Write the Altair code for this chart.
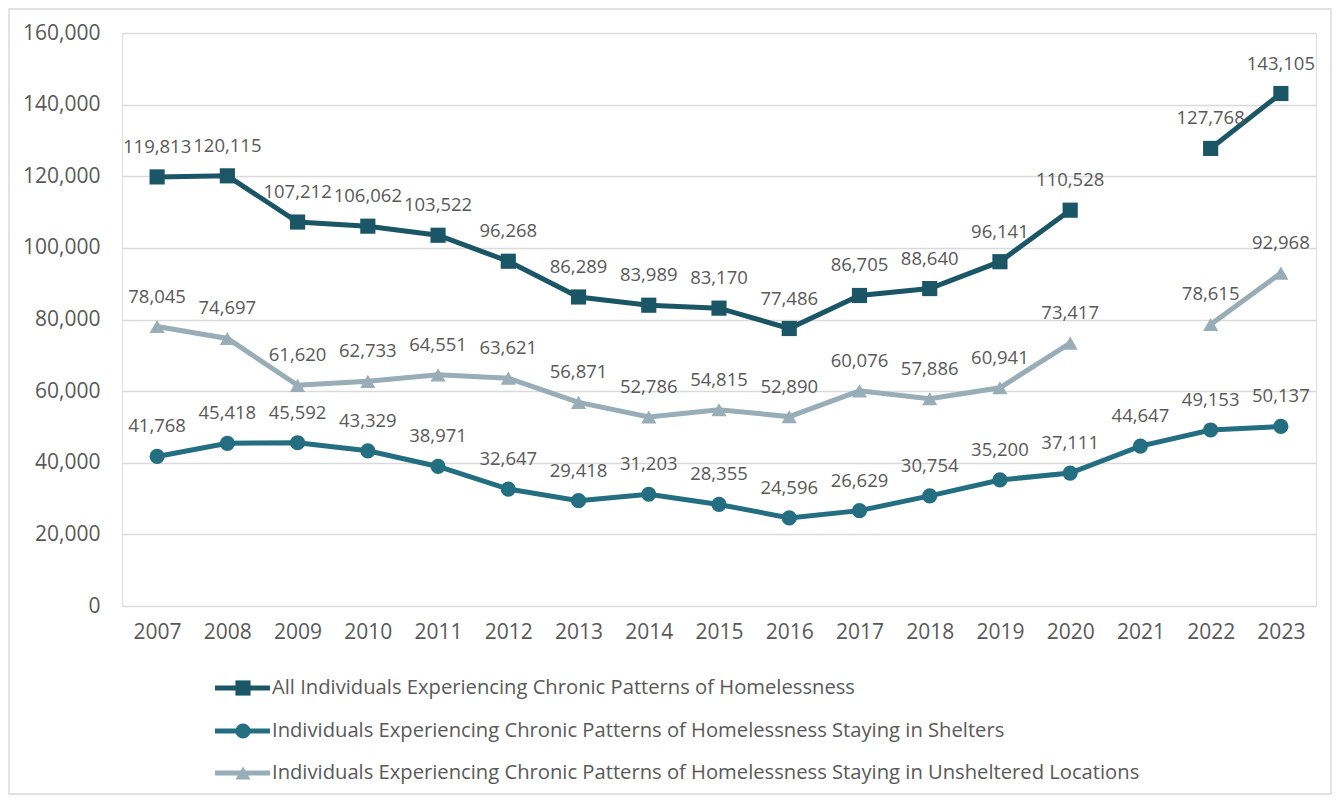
import altair as alt
import pandas as pd

years = [str(y) for y in range(2007, 2024)]
all_vals = [119813, 120115, 107212, 106062, 103522, 96268, 86289, 83989, 83170,
            77486, 86705, 88640, 96141, 110528, None, 127768, 143105]
shelter_vals = [41768, 45418, 45592, 43329, 38971, 32647, 29418, 31203, 28355,
                24596, 26629, 30754, 35200, 37111, 44647, 49153, 50137]
unshel_vals = [78045, 74697, 61620, 62733, 64551, 63621, 56871, 52786, 54815,
               52890, 60076, 57886, 60941, 73417, None, 78615, 92968]

series_names = [
    "All Individuals Experiencing Chronic Patterns of Homelessness",
    "Individuals Experiencing Chronic Patterns of Homelessness Staying in Shelters",
    "Individuals Experiencing Chronic Patterns of Homelessness Staying in Unsheltered Locations",
]
series_colors = ["#1b5667", "#236e80", "#98adb7"]
series_shapes = ["square", "circle", "triangle-up"]
y_ticks = list(range(0, 160001, 20000))

rows = []
for name, vals in zip(series_names, [all_vals, shelter_vals, unshel_vals]):
    seg = 0
    for yr, v in zip(years, vals):
        if v is None:
            seg += 1
            continue
        rows.append({"year": yr, "value": v, "series": name, "seg": f"{name}-{seg}"})
df = pd.DataFrame(rows)

FONT = "Open Sans"
TXT = "#595959"
W, H = 1194, 573

xenc = alt.X("year:O", sort=years,
             scale=alt.Scale(type="point", padding=0.5, domain=years),
             axis=alt.Axis(title=None, labelAngle=0, labelFontSize=21, labelColor=TXT,
                           labelFont=FONT, ticks=False, domain=False, grid=False,
                           labelPadding=15))
yenc = alt.Y("value:Q", scale=alt.Scale(domain=[0, 160000], nice=False),
             axis=alt.Axis(title=None, values=y_ticks, format=",.0f", labelFontSize=21,
                           labelColor=TXT, labelFont=FONT, ticks=False, domain=False,
                           gridColor="#d9d9d9", gridWidth=1.5, labelPadding=22))
color = alt.Color("series:N", scale=alt.Scale(domain=series_names, range=series_colors), legend=None)
shape = alt.Shape("series:N", scale=alt.Scale(domain=series_names, range=series_shapes), legend=None)

base = alt.Chart(df)
lines = base.mark_line(strokeWidth=5).encode(x=xenc, y=yenc, color=color, detail="seg:N")
points = base.mark_point(filled=True, size=230, opacity=1).encode(x=xenc, y=yenc, color=color, shape=shape)
labels = base.mark_text(dy=-30, fontSize=18.5, font=FONT, color=TXT).encode(
    x=xenc, y=yenc, text=alt.Text("value:Q", format=",.0f"))

# Legend (manual, line + marker)
legend_layers = []
leg_y = [655, 698, 740]
for name, col, shp, ly in zip(series_names, series_colors, series_shapes, leg_y):
    ld = alt.Chart(pd.DataFrame({"series": [name]}))
    legend_layers.append(ld.mark_rule(strokeWidth=5, color=col).encode(
        x=alt.value(93), x2=alt.value(148), y=alt.value(ly)))
    legend_layers.append(ld.mark_point(filled=True, size=230, opacity=1, color=col, shape=shp).encode(
        x=alt.value(121), y=alt.value(ly)))
    legend_layers.append(ld.mark_text(align="left", baseline="middle", fontSize=20.2, font=FONT,
                                      color=TXT).encode(
        x=alt.value(150), y=alt.value(ly), text="series:N"))

border = alt.Chart(pd.DataFrame({"a": [0]})).mark_rect(
    fill=None, stroke="#d9d9d9", strokeWidth=1.5).encode(
    x=alt.value(-113), x2=alt.value(W + 15), y=alt.value(-24), y2=alt.value(H + 188))

chart = alt.layer(border, lines, points, labels, *legend_layers).properties(
    width=W, height=H,
    autosize=alt.AutoSizeParams(type="none"),
    padding={"left": 114, "top": 25, "right": 16, "bottom": 190},
).configure_view(stroke=None).configure(background="white")

chart.save("out.html", embed_options={"renderer": "svg", "actions": False})
